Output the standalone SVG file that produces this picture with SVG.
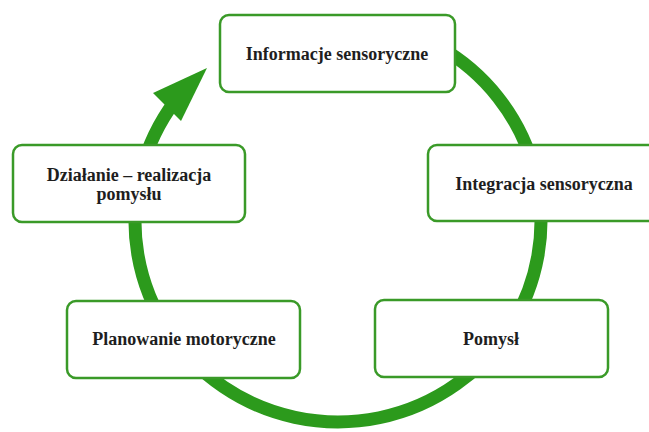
<svg xmlns="http://www.w3.org/2000/svg" width="649" height="432" viewBox="0 0 649 432">
<style>
.box{fill:#ffffff;stroke:#3a9a28;stroke-width:2.5}
.lbl{font-family:"Liberation Serif","Times New Roman",serif;font-weight:bold;font-size:18px;fill:#1e1e1e;text-anchor:middle}
.ring{fill:none;stroke:#2c9a1c;stroke-width:13}
.head{fill:#2c9a1c}
</style>
<rect width="649" height="432" fill="#ffffff"/>
<g id="connectors">
<path class="ring" d="M 439.5 46.9 A 203 201 0 1 1 174.8 101.4"/>
<polygon class="head" points="207,68 153,93 181,121"/>
</g>
<g id="node-informacje">
<rect class="box" x="220" y="15" width="235" height="77" rx="9"/>
<text class="lbl" x="337" y="60">Informacje sensoryczne</text>
</g>
<g id="node-integracja">
<rect class="box" x="428" y="145" width="240" height="76" rx="9"/>
<text class="lbl" x="544" y="190">Integracja sensoryczna</text>
</g>
<g id="node-pomysl">
<rect class="box" x="375" y="300" width="233" height="77" rx="9"/>
<text class="lbl" x="491" y="345">Pomysł</text>
</g>
<g id="node-planowanie">
<rect class="box" x="67" y="301" width="233" height="77" rx="9"/>
<text class="lbl" x="184" y="345">Planowanie motoryczne</text>
</g>
<g id="node-dzialanie">
<rect class="box" x="13" y="145" width="232" height="77" rx="9"/>
<text class="lbl" x="129" y="181">Działanie – realizacja</text>
<text class="lbl" x="129" y="200">pomysłu</text>
</g>
</svg>
